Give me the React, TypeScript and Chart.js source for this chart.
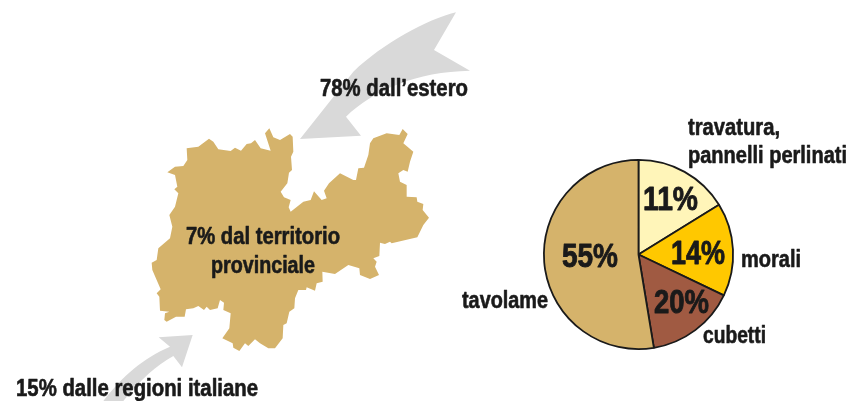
import { useEffect, useRef } from "react";
import { Chart, registerables } from "chart.js";

Chart.register(...registerables);

const categories = ["travatura, pannelli perlinati", "morali", "cubetti", "tavolame"];
const statedPercents = ["11%", "14%", "20%", "55%"];
// The printed slices are not to scale with their labels: these are the shares as drawn.
const drawnShares = [16.2, 15.9, 15.3, 52.6];
const sliceColors = ["#fff5b9", "#ffc800", "#a05a42", "#d5b36b"];

const INK = "#1a1a1a";
const TAN = "#d5b36b";
const GREY = "#d9d9d9";
const FONT = '"Liberation Sans Narrow", "Liberation Sans", sans-serif';

// Illustration outline of the province, [x, y] traced at 3x from (140, 120)
const mapOutline = [[388,25],[400,52],[420,60],[450,42],[458,50],[460,95],[453,110],[456,150],[447,158],[442,190],[422,215],[432,232],[452,240],[446,262],[452,275],[490,245],[512,240],[522,214],[545,240],[560,235],[552,212],[567,190],[600,160],[640,180],[648,180],[655,145],[672,143],[685,105],[690,70],[700,55],[740,40],[778,45],[788,27],[803,42],[790,70],[820,95],[810,125],[803,155],[790,150],[775,160],[780,185],[800,195],[800,230],[830,232],[832,245],[850,252],[848,270],[867,293],[850,315],[832,352],[755,370],[750,365],[735,372],[720,368],[718,408],[700,415],[710,425],[705,440],[717,465],[690,477],[660,465],[658,445],[625,435],[585,462],[547,455],[548,485],[530,490],[525,512],[500,502],[498,510],[475,510],[465,535],[463,565],[448,575],[440,610],[430,615],[428,655],[405,685],[385,685],[360,670],[345,658],[325,678],[315,670],[298,693],[280,683],[278,670],[247,655],[268,625],[272,580],[250,570],[252,548],[240,540],[233,565],[210,570],[200,560],[192,570],[175,558],[160,565],[138,568],[134,590],[108,590],[80,605],[73,600],[75,580],[88,575],[60,572],[58,530],[50,520],[62,508],[50,480],[37,450],[35,428],[50,420],[55,385],[90,355],[97,320],[88,285],[105,260],[115,220],[103,208],[112,200],[105,165],[82,157],[105,140],[130,138],[142,120],[140,85],[175,80],[207,56],[220,65],[235,88],[272,93],[285,83],[303,92],[320,72],[333,70],[345,60],[362,85],[392,92],[375,40]];

type Label = { text: string; x: number; y: number; w: number; size: number; stroke: number };
const labels: Label[] = [
  { text: "78% dall’estero", x: 320, y: 96, w: 148, size: 23, stroke: 0.6 },
  { text: "7% dal territorio", x: 186, y: 244, w: 154, size: 23, stroke: 0.6 },
  { text: "provinciale", x: 211, y: 273, w: 104, size: 23, stroke: 0.6 },
  { text: "15% dalle regioni italiane", x: 16, y: 396, w: 242, size: 23, stroke: 0.6 },
  { text: "travatura,", x: 688, y: 135, w: 92, size: 23, stroke: 0.6 },
  { text: "pannelli perlinati", x: 688, y: 163, w: 159, size: 23, stroke: 0.6 },
  { text: categories[1], x: 741, y: 267, w: 60, size: 23, stroke: 0.6 },
  { text: categories[2], x: 703, y: 343, w: 63, size: 23, stroke: 0.6 },
  { text: categories[3], x: 462, y: 308, w: 86, size: 23, stroke: 0.6 },
  { text: statedPercents[0], x: 643, y: 210, w: 55, size: 33, stroke: 0.9 },
  { text: statedPercents[1], x: 671, y: 264, w: 54, size: 33, stroke: 0.9 },
  { text: statedPercents[2], x: 654, y: 313, w: 55, size: 33, stroke: 0.9 },
  { text: statedPercents[3], x: 562, y: 267, w: 56, size: 33, stroke: 0.9 },
];

const illustration = {
  id: "illustration",
  beforeDatasetsDraw(chart: Chart) {
    const c = chart.ctx;
    c.save();
    c.fillStyle = GREY;
    // large arrow
    c.save();
    c.translate(250, 0);
    c.scale(1 / 3, 1 / 3);
    c.beginPath();
    c.moveTo(618, 37);
    c.bezierCurveTo(530, 58, 400, 130, 310, 215);
    c.lineTo(150, 417);
    c.lineTo(333, 407);
    c.lineTo(288, 350);
    c.bezierCurveTo(370, 270, 500, 215, 660, 212);
    c.lineTo(552, 150);
    c.closePath();
    c.fill();
    c.restore();
    // small arrow
    c.save();
    c.translate(0, 320);
    c.scale(1 / 3, 1 / 3);
    c.beginPath();
    c.moveTo(578, 45);
    c.lineTo(476, 52);
    c.lineTo(510, 80);
    c.bezierCurveTo(430, 115, 370, 165, 310, 243);
    c.lineTo(370, 243);
    c.bezierCurveTo(420, 180, 470, 135, 520, 108);
    c.lineTo(546, 142);
    c.closePath();
    c.fill();
    c.restore();
    // map
    c.save();
    c.translate(140, 120);
    c.scale(1 / 3, 1 / 3);
    c.fillStyle = TAN;
    c.beginPath();
    mapOutline.forEach(([x, y], i) => (i ? c.lineTo(x, y) : c.moveTo(x, y)));
    c.closePath();
    c.fill();
    c.restore();
    c.restore();
  },
  afterDatasetsDraw(chart: Chart) {
    const c = chart.ctx;
    c.save();
    c.fillStyle = INK;
    c.strokeStyle = INK;
    c.lineJoin = "round";
    c.textBaseline = "alphabetic";
    c.textAlign = "left";
    for (const l of labels) {
      c.font = `bold ${l.size}px ${FONT}`;
      c.lineWidth = l.stroke;
      const natural = c.measureText(l.text).width;
      c.save();
      c.translate(l.x, l.y);
      c.scale(l.w / natural, 1);
      c.fillText(l.text, 0, 0);
      c.strokeText(l.text, 0, 0);
      c.restore();
    }
    c.restore();
  },
};

export default function App() {
  const ref = useRef<HTMLCanvasElement>(null);
  useEffect(() => {
    const chart = new Chart(ref.current!, {
      type: "pie",
      data: {
        labels: categories,
        datasets: [
          {
            data: drawnShares,
            backgroundColor: sliceColors,
            borderColor: INK,
            borderWidth: 1.8,
          },
        ],
      },
      options: {
        responsive: false,
        animation: false,
        layout: { padding: { left: 543, right: 116, top: 159, bottom: 51 } },
        plugins: { legend: { display: false }, tooltip: { enabled: false } },
      },
      plugins: [illustration],
    });
    return () => chart.destroy();
  }, []);
  return (
    <div style={{ position: "absolute", left: 0, top: 0, width: 850, height: 401, background: "#fff", overflow: "hidden" }}>
      <canvas ref={ref} width={850} height={401} style={{ display: "block" }} />
    </div>
  );
}
